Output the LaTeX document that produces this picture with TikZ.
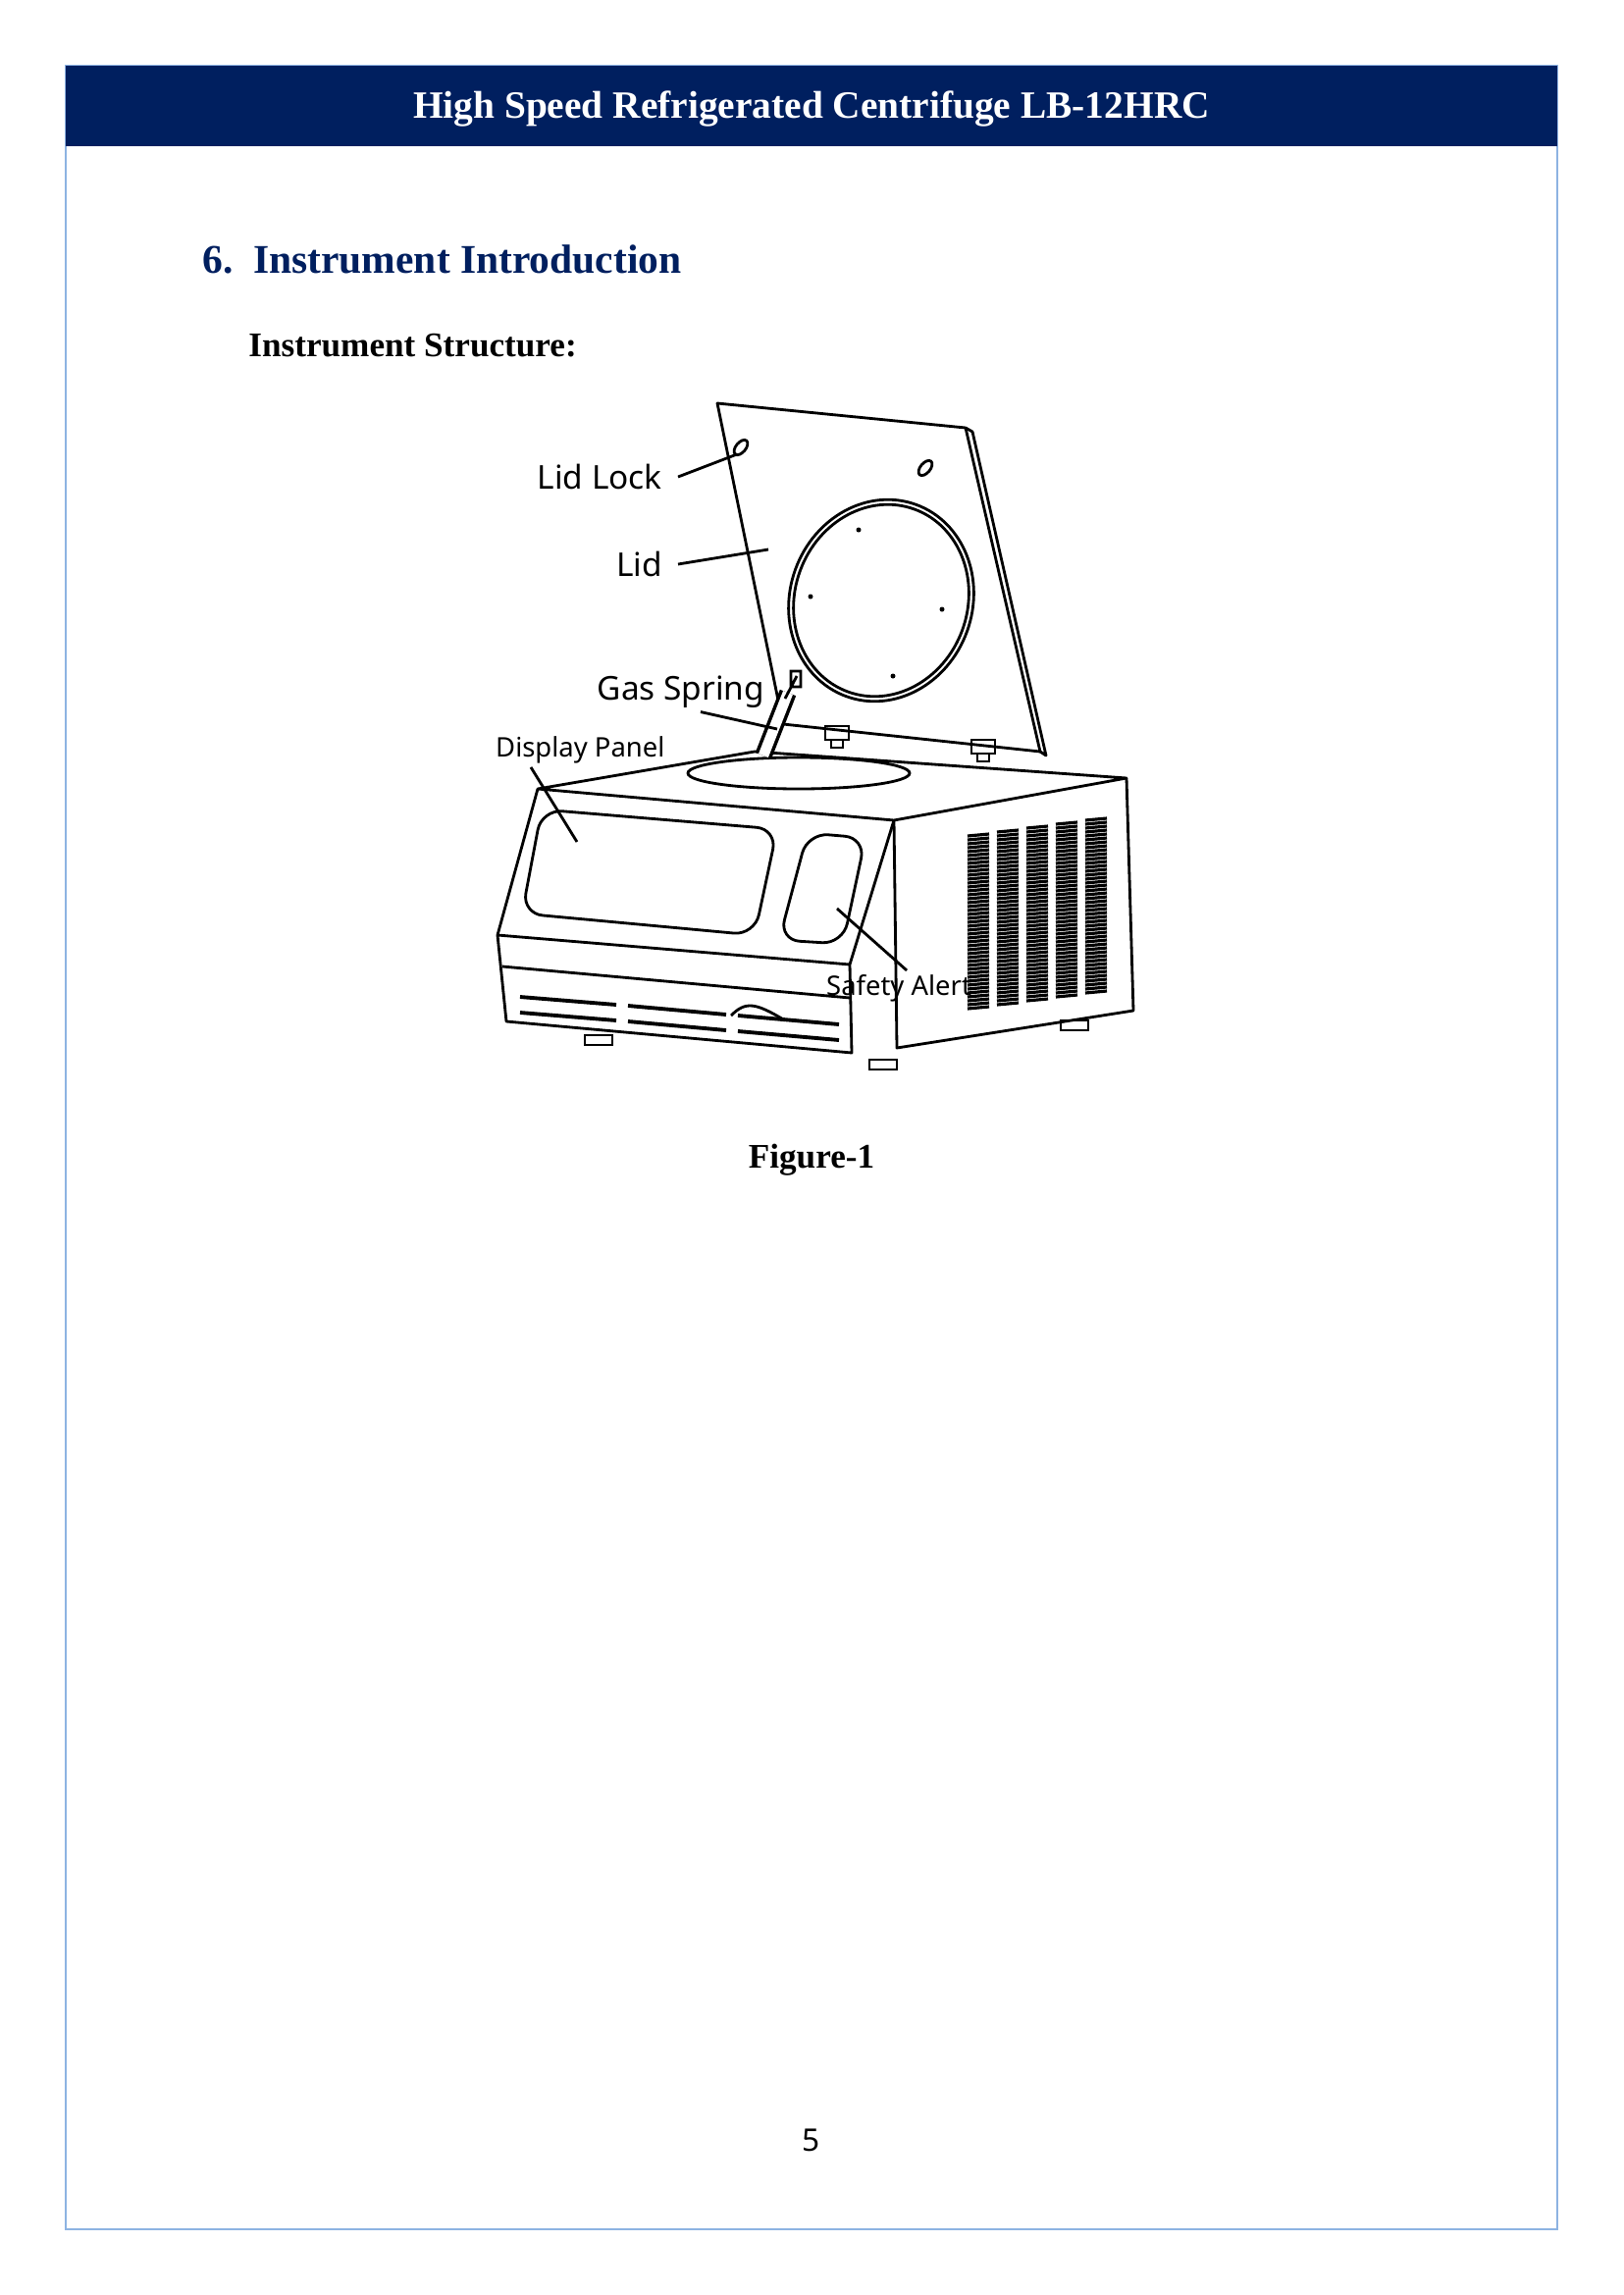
\documentclass[tikz,border=0pt]{standalone}
\usepackage{fontspec}
\setmainfont{Liberation Serif}
\newfontfamily\lblfont{Noto Sans}
\definecolor{navy}{HTML}{001F5F}
\definecolor{frame}{HTML}{8DB3E2}
\tikzset{
  lbl/.style={font=\lblfont\fontsize{9.5}{10}\selectfont, inner sep=1pt},
  slbl/.style={font=\lblfont\fontsize{7.8}{9}\selectfont, inner sep=1pt},
  lead/.style={thick},
  part/.style={thick, line join=round},
  vent/.style={line width=1.1pt}
}
\begin{document}
\begin{tikzpicture}[x=0.01cm,y=-0.01cm]
\useasboundingbox (0,0) rectangle (1654,2339);
% page
\draw[frame, line width=0.8pt] (67,67) rectangle (1587,2272);
\fill[navy] (67,67) rectangle (1587,149);
\node[text=white, font=\bfseries\fontsize{11.2}{14}\selectfont] (title) at (827,111) {High Speed Refrigerated Centrifuge LB-12HRC};
\node[text=navy, font=\bfseries\fontsize{11.8}{15}\selectfont, anchor=west] (sec) at (194,264) {6.\enspace Instrument Introduction};
\node[font=\bfseries\fontsize{10}{12}\selectfont, anchor=west] (sub) at (241,352) {Instrument Structure:};
% lid
\draw[part, fill=white] (731,411) -- (984,436) -- (1060,766) -- (798,738) -- cycle;
\draw[part] (984,436) -- (991,440) -- (1066,770) -- (1060,766);
\draw[part, rotate around={-20:(898,612)}] (898,612) ellipse (93 and 104);
\draw[thick, rotate around={-20:(898,612)}] (898,612) ellipse (88 and 99);
\foreach \p in {(875,540),(826,608),(960,621),(910,689)}
  \fill \p circle (2.5);
\foreach \p in {(755,456),(943,477)}
  \draw[thick, rotate around={-40:\p}] \p ellipse (5 and 9);
% hinges
\foreach \p in {(853,748),(1002,762)}
  \draw[thick, shift={\p}] (-12,-8) rectangle (12,6) (-6,6) rectangle (6,14);
% body top
\draw[part, fill=white] (548,804) -- (769,766) -- (1148,793) -- (911,836) -- cycle;
\draw[thick] (814,788) ellipse (113 and 16);
% gas spring
\draw[line width=5pt] (778,770) -- (803,706);
\draw[line width=3pt, white] (778,770) -- (803,706);
\draw[thick] (800,712) -- (812,689) (806,684) rectangle (816,700);
% front face
\draw[part] (548,804) -- (507,953) -- (516,1041) -- (868,1073) -- (866,983) -- (911,836);
\draw[part] (507,953) -- (866,983);
\draw[thick] (512,985) -- (866,1017);
\draw[part, rounded corners=6] (552,825) -- (792,845) -- (769,953) -- (532,931) -- cycle;
\draw[part, rounded corners=6] (823,849) -- (882,854) -- (859,962) -- (794,958) -- cycle;
\foreach \y in {1016,1032}
  \draw[vent] (530,\y) -- (628,\y+8) (640,\y+9) -- (740,\y+18) (752,\y+19) -- (855,\y+28);
\draw[thick] (745,1035) .. controls (760,1020) and (770,1022) .. (800,1040);
% side face
\draw[part] (911,836) -- (914,1068) -- (1155,1030) -- (1148,793);
\foreach \i in {0,1,2,3,4} {
  \begin{scope}[shift={(986+30*\i,852-4*\i)}]
    \foreach \k in {0,4,...,176}
      \draw[line width=0.9pt] (0,\k) -- (22,\k-2);
  \end{scope}
}
% feet
\foreach \p in {(610,1055),(900,1080),(1095,1040)}
  \draw[thick, shift={\p}] (-14,0) rectangle (14,10);
% labels
\node[lbl, anchor=east] (lock) at (679,486) {Lid Lock};
\node[lbl, anchor=east] (lid) at (679,575) {Lid};
\node[lbl, anchor=center] (gas) at (694,705) {Gas Spring};
\node[slbl, anchor=west] (disp) at (501,764) {Display Panel};
\node[slbl, anchor=west] (alert) at (838,1007) {Safety Alert};
\coordinate (lockend) at (751,463);
\coordinate (lidend) at (783,560);
\coordinate (gasend) at (792,743);
\coordinate (dispend) at (588,858);
\coordinate (alertend) at (853,926);
\draw[lead] (lock.east) ++(12,0) -- (lockend);
\draw[lead] (lid.east) ++(12,0) -- (lidend);
\draw[lead] (gas.south) ++(20,0) -- (gasend);
\draw[lead] (disp.south west) ++(40,0) -- (dispend);
\draw[lead] (alert.north) ++(8,0) -- (alertend);
\node[font=\bfseries\fontsize{10}{12}\selectfont] (fig) at (827,1182) {Figure-1};
\node[font=\lblfont\fontsize{9}{10}\selectfont] (pg) at (827,2181) {5};
\end{tikzpicture}
\end{document}
